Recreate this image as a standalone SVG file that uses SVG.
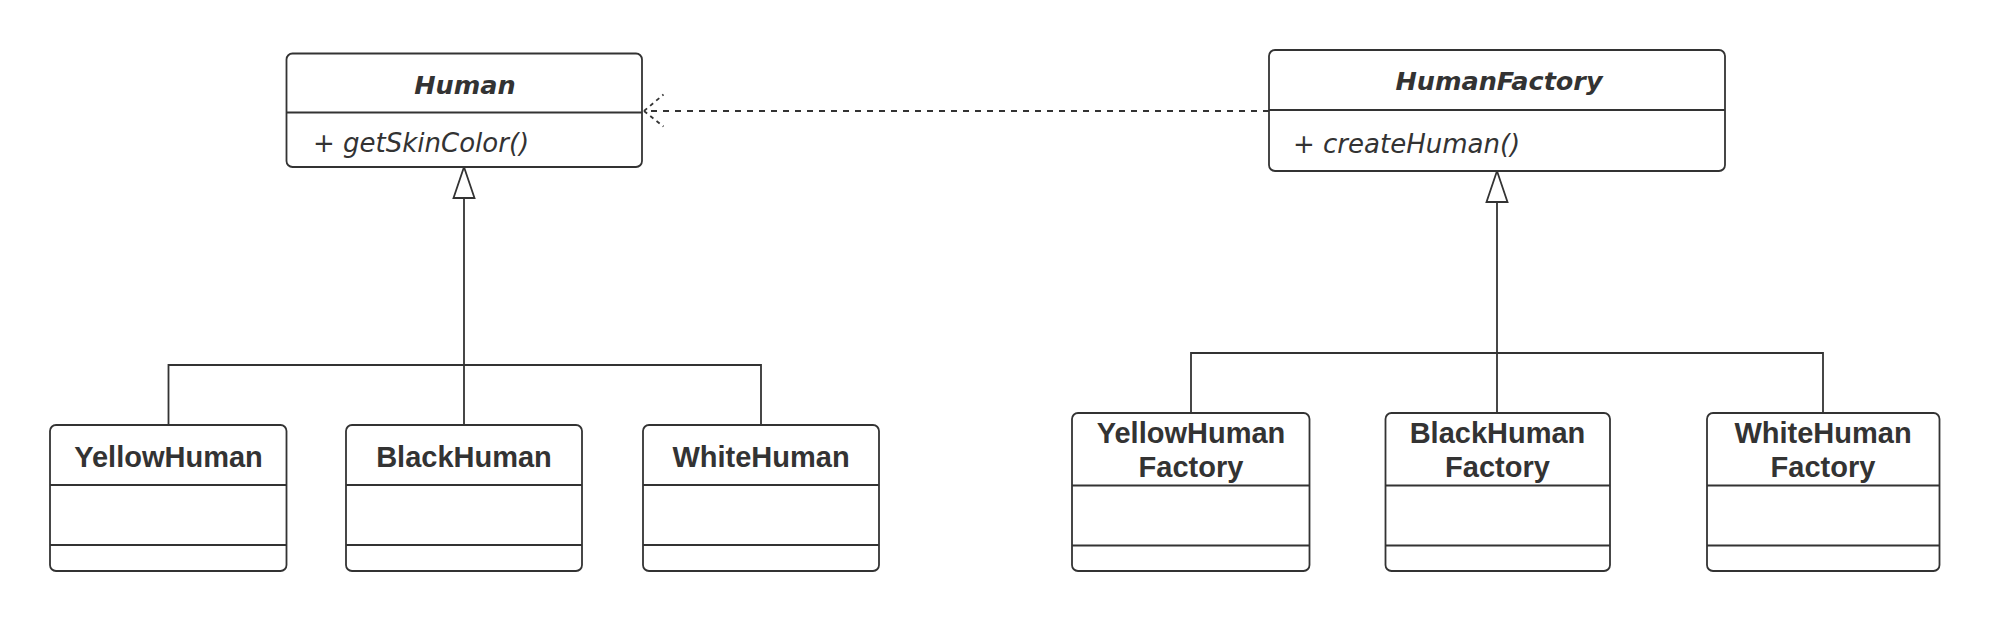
<svg xmlns="http://www.w3.org/2000/svg" width="1990" height="621" viewBox="0 0 1990 621">
<style>
.box{fill:#fff;stroke:#333;stroke-width:1.8}
.div{stroke:#333;stroke-width:1.8}
.ln{fill:none;stroke:#333;stroke-width:1.8}
.tri{fill:#fff;stroke:#333;stroke-width:1.8;stroke-linejoin:miter}
.dash{fill:none;stroke:#333;stroke-width:1.8;stroke-dasharray:6 6}
.dash2{fill:none;stroke:#333;stroke-width:1.8;stroke-dasharray:4 4}
.ti{font-family:"DejaVu Sans",sans-serif;font-weight:bold;font-style:italic;font-size:25.5px;fill:#333;text-anchor:middle}
.me{font-family:"DejaVu Sans",sans-serif;font-style:italic;font-size:26px;fill:#333}
.t{font-family:"Liberation Sans",Arial,sans-serif;font-weight:bold;font-size:29px;fill:#333;text-anchor:middle}
</style>
<rect width="1990" height="621" fill="#fff"/>
<g id="connectors">
  <path class="dash" d="M1269 111 H647"/>
  <path class="dash2" d="M644 111 L663.5 94.5 M644 111 L663.5 126.5"/>
  <path class="ln" d="M464 198 V425 M168.5 425 V365 H761 V425"/>
  <polygon class="tri" points="464,167 453.5,198 474.5,198"/>
  <path class="ln" d="M1497 202 V413 M1191 413 V353 H1823 V413"/>
  <polygon class="tri" points="1497,171 1486.5,202 1507.5,202"/>
</g>
<g id="Human">
  <rect class="box" x="286.5" y="53.5" width="355.5" height="113.5" rx="6"/>
  <line class="div" x1="286.5" y1="112.5" x2="642" y2="112.5"/>
  <text class="ti" x="465" y="94">Human</text>
  <text class="me" x="313" y="152">+ getSkinColor()</text>
</g>
<g id="HumanFactory">
  <rect class="box" x="1269" y="50" width="456" height="121" rx="6"/>
  <line class="div" x1="1269" y1="110" x2="1725" y2="110"/>
  <text class="ti" x="1499" y="90">HumanFactory</text>
  <text class="me" x="1293" y="153">+ createHuman()</text>
</g>
<g id="YellowHuman">
  <rect class="box" x="50" y="425" width="236.5" height="146" rx="6"/>
  <line class="div" x1="50" y1="485" x2="286.5" y2="485"/>
  <line class="div" x1="50" y1="545" x2="286.5" y2="545"/>
  <text class="t" x="168.5" y="466.5">YellowHuman</text>
</g>
<g id="BlackHuman">
  <rect class="box" x="346" y="425" width="236" height="146" rx="6"/>
  <line class="div" x1="346" y1="485" x2="582" y2="485"/>
  <line class="div" x1="346" y1="545" x2="582" y2="545"/>
  <text class="t" x="464" y="466.5">BlackHuman</text>
</g>
<g id="WhiteHuman">
  <rect class="box" x="643" y="425" width="236" height="146" rx="6"/>
  <line class="div" x1="643" y1="485" x2="879" y2="485"/>
  <line class="div" x1="643" y1="545" x2="879" y2="545"/>
  <text class="t" x="761" y="466.5">WhiteHuman</text>
</g>
<g id="YellowHumanFactory">
  <rect class="box" x="1072" y="413" width="237.5" height="158" rx="6"/>
  <line class="div" x1="1072" y1="485.5" x2="1309.5" y2="485.5"/>
  <line class="div" x1="1072" y1="545.5" x2="1309.5" y2="545.5"/>
  <text class="t" x="1191" y="443">YellowHuman</text>
  <text class="t" x="1191" y="476.5">Factory</text>
</g>
<g id="BlackHumanFactory">
  <rect class="box" x="1385.5" y="413" width="224.5" height="158" rx="6"/>
  <line class="div" x1="1385.5" y1="485.5" x2="1610" y2="485.5"/>
  <line class="div" x1="1385.5" y1="545.5" x2="1610" y2="545.5"/>
  <text class="t" x="1497.5" y="443">BlackHuman</text>
  <text class="t" x="1497.5" y="476.5">Factory</text>
</g>
<g id="WhiteHumanFactory">
  <rect class="box" x="1707" y="413" width="232.5" height="158" rx="6"/>
  <line class="div" x1="1707" y1="485.5" x2="1939.5" y2="485.5"/>
  <line class="div" x1="1707" y1="545.5" x2="1939.5" y2="545.5"/>
  <text class="t" x="1823" y="443">WhiteHuman</text>
  <text class="t" x="1823" y="476.5">Factory</text>
</g>
</svg>
